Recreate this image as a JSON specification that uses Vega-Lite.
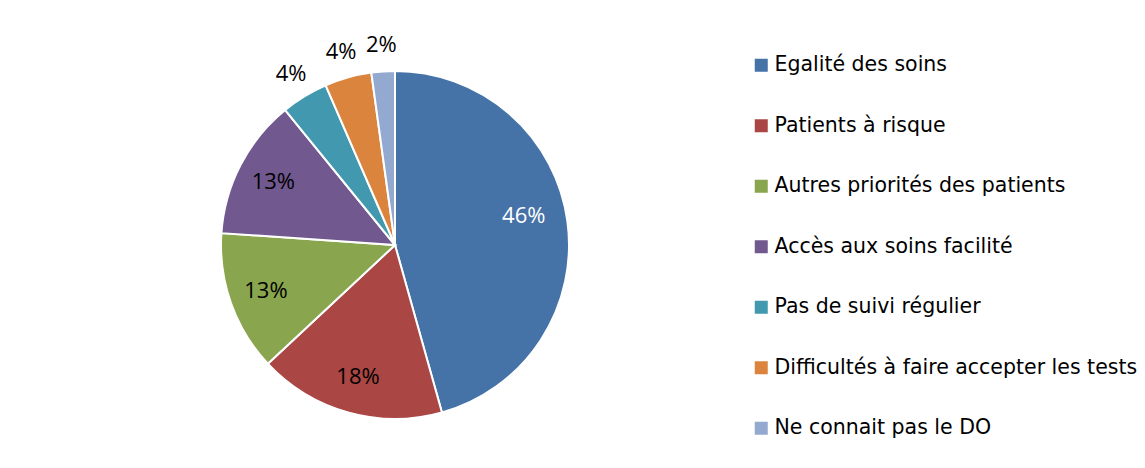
{
  "$schema": "https://vega.github.io/schema/vega-lite/v6.json",
  "autosize": {"type": "none"},
  "padding": {"left": 0, "top": 21, "right": 355, "bottom": 0},
  "width": 790,
  "height": 448,
  "background": "white",
  "config": {"view": {"stroke": null}},
  "data": {
    "values": [
      {"idx": 1, "cat": "Egalité des soins", "count": 21, "label": "46%"},
      {"idx": 2, "cat": "Patients à risque", "count": 8, "label": "18%"},
      {"idx": 3, "cat": "Autres priorités des patients", "count": 6, "label": "13%"},
      {"idx": 4, "cat": "Accès aux soins facilité", "count": 6, "label": "13%"},
      {"idx": 5, "cat": "Pas de suivi régulier", "count": 2, "label": "4%"},
      {"idx": 6, "cat": "Difficultés à faire accepter les tests", "count": 2, "label": "4%"},
      {"idx": 7, "cat": "Ne connait pas le DO", "count": 1, "label": "2%"}
    ]
  },
  "encoding": {
    "theta": {"field": "count", "type": "quantitative", "stack": true},
    "order": {"field": "idx", "type": "quantitative", "sort": "ascending"}
  },
  "layer": [
    {
      "mark": {"type": "arc", "outerRadius": 174, "stroke": "white", "strokeWidth": 2},
      "encoding": {
        "color": {
          "field": "cat",
          "type": "nominal",
          "sort": null,
          "scale": {
            "domain": ["Egalité des soins", "Patients à risque", "Autres priorités des patients", "Accès aux soins facilité", "Pas de suivi régulier", "Difficultés à faire accepter les tests", "Ne connait pas le DO"],
            "range": ["#4572A7", "#AA4643", "#89A54E", "#71588F", "#4198AF", "#DB843D", "#93A9CF"]
          },
          "legend": {
            "title": null,
            "orient": "none",
            "legendX": 751,
            "legendY": 34,
            "padding": 0,
            "symbolType": "square",
            "symbolSize": 169,
            "symbolStrokeWidth": 0,
            "labelFont": "DejaVu Sans",
            "labelFontSize": 20.5,
            "labelColor": "black",
            "labelOffset": 3,
            "labelLimit": 1000,
            "rowPadding": 39.5
          }
        }
      }
    },
    {
      "mark": {"type": "text", "radius": 132, "font": "Open Sans", "fontSize": 22, "color": "white", "dy": -11, "dx": -2},
      "encoding": {
        "text": {"condition": {"test": "datum.idx == 1", "field": "label"}, "value": ""}
      }
    },
    {
      "mark": {"type": "text", "radius": 137, "font": "Open Sans", "fontSize": 22, "color": "black"},
      "encoding": {
        "text": {"condition": {"test": "datum.idx >= 2 && datum.idx <= 4", "field": "label"}, "value": ""}
      }
    },
    {
      "mark": {"type": "text", "radius": 200, "font": "Open Sans", "fontSize": 22, "color": "black"},
      "encoding": {
        "text": {"condition": {"test": "datum.idx >= 5", "field": "label"}, "value": ""}
      }
    }
  ]
}
